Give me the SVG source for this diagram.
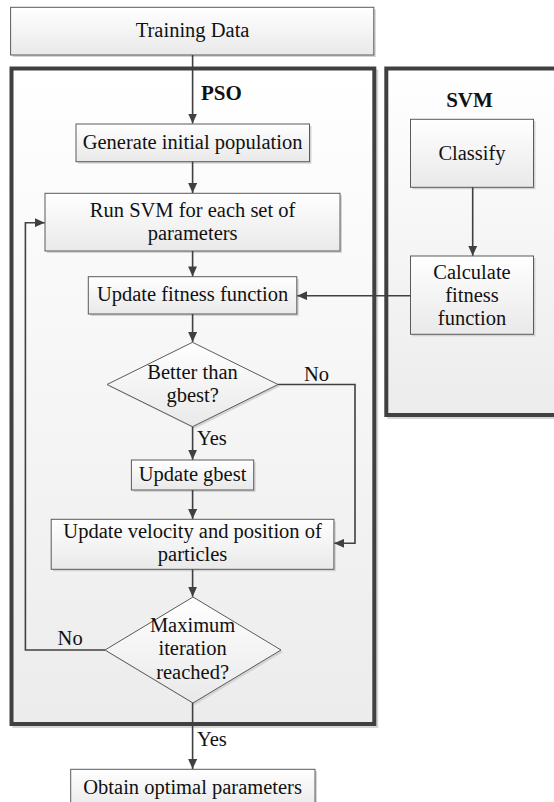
<svg xmlns="http://www.w3.org/2000/svg" width="554" height="802" viewBox="0 0 554 802">
<defs>
<linearGradient id="gBox" x1="0" y1="0" x2="0" y2="1"><stop offset="0" stop-color="#ffffff"/><stop offset="1" stop-color="#e9e9e9"/></linearGradient>
<linearGradient id="gCont" x1="0" y1="0" x2="0" y2="1"><stop offset="0" stop-color="#ffffff"/><stop offset="1" stop-color="#ececec"/></linearGradient>
<marker id="ah" markerUnits="userSpaceOnUse" markerWidth="11" markerHeight="9" refX="10" refY="4.5" orient="auto"><path d="M0,0 L10,4.5 L0,9 z" fill="#404040"/></marker>
</defs>
<style>
.box{fill:url(#gBox);stroke:#5a5a5a;stroke-width:1}
.shadow{fill:#d4d4d4;stroke:none}
.cont{fill:url(#gCont);stroke:#404040;stroke-width:4}
.cshadow{fill:none;stroke:#d6d6d6;stroke-width:3}
.dia{fill:url(#gBox);stroke:#5a5a5a;stroke-width:1}
.t{font-family:"Liberation Serif","Times New Roman",serif;font-size:20.5px;fill:#111;text-anchor:middle}
.ts{font-family:"Liberation Serif","Times New Roman",serif;font-size:20.5px;fill:#111}
.b{font-family:"Liberation Serif","Times New Roman",serif;font-size:21px;font-weight:bold;fill:#111}
.c{fill:none;stroke:#404040;stroke-width:1.6}
.ca{fill:none;stroke:#404040;stroke-width:1.6;marker-end:url(#ah)}
</style>

<g id="pso-container">
<rect class="cshadow" x="14" y="71" width="362.8" height="655.5"/>
<rect class="cont" x="11.5" y="68.5" width="362.8" height="655.5"/>
<text class="b" x="201" y="100">PSO</text>
</g>
<g id="svm-container">
<rect class="cshadow" x="388.8" y="71" width="200" height="346.5"/>
<rect class="cont" x="386.3" y="68.5" width="200" height="346.5"/>
<text class="b" x="469.5" y="107" text-anchor="middle">SVM</text>
</g>

<g id="training-data">
<rect class="shadow" x="12.6" y="9.3" width="363.2" height="47.7"/>
<rect class="box" x="10.6" y="7.3" width="363.2" height="47.7"/>
<text class="t" x="192.6" y="37">Training Data</text>
</g>
<g id="generate">
<rect class="shadow" x="78" y="126" width="233.5" height="37.7"/>
<rect class="box" x="76" y="124" width="233.5" height="37.7"/>
<text class="t" x="192.6" y="148.5">Generate initial population</text>
</g>
<g id="classify">
<rect class="shadow" x="412.5" y="121.3" width="123" height="68"/>
<rect class="box" x="410.5" y="119.3" width="123" height="68"/>
<text class="t" x="472" y="160">Classify</text>
</g>
<g id="run-svm">
<rect class="shadow" x="47" y="195.3" width="295" height="57.7"/>
<rect class="box" x="45" y="193.3" width="295" height="57.7"/>
<text class="t" x="192.6" y="217">Run SVM for each set of</text>
<text class="t" x="192.6" y="240">parameters</text>
</g>
<g id="update-fitness">
<rect class="shadow" x="90.3" y="278.7" width="208.5" height="37.3"/>
<rect class="box" x="88.3" y="276.7" width="208.5" height="37.3"/>
<text class="t" x="192.6" y="301">Update fitness function</text>
</g>
<g id="calculate-fitness">
<rect class="shadow" x="412.5" y="258" width="123" height="78.3"/>
<rect class="box" x="410.5" y="256" width="123" height="78.3"/>
<text class="t" x="472" y="278.5">Calculate</text>
<text class="t" x="472" y="302">fitness</text>
<text class="t" x="472" y="324.5">function</text>
</g>
<g id="better-than-gbest">
<polygon class="shadow" points="194.5,344.3 280,386.5 194.5,428.7 109,386.5"/>
<polygon class="dia" points="192.5,342.3 278,384.5 192.5,426.7 107,384.5"/>
<text class="t" x="192.6" y="379">Better than</text>
<text class="t" x="192.6" y="401.5">gbest?</text>
</g>
<g id="update-gbest">
<rect class="shadow" x="133.4" y="462" width="122.3" height="30"/>
<rect class="box" x="131.4" y="460" width="122.3" height="30"/>
<text class="t" x="192.6" y="481">Update gbest</text>
</g>
<g id="update-velocity">
<rect class="shadow" x="53.2" y="521.3" width="282.7" height="50"/>
<rect class="box" x="51.2" y="519.3" width="282.7" height="50"/>
<text class="t" x="192.6" y="537.5">Update velocity and position of</text>
<text class="t" x="192.6" y="561">particles</text>
</g>
<g id="max-iteration">
<polygon class="shadow" points="195,599 283,652 195,705 107,652"/>
<polygon class="dia" points="193,597 281,650 193,703 105,650"/>
<text class="t" x="192.6" y="632">Maximum</text>
<text class="t" x="192.6" y="655">iteration</text>
<text class="t" x="192.6" y="678.5">reached?</text>
</g>
<g id="obtain-optimal">
<rect class="shadow" x="72.7" y="771.3" width="244.3" height="40"/>
<rect class="box" x="70.7" y="769.3" width="244.3" height="40"/>
<text class="t" x="192.6" y="793.5">Obtain optimal parameters</text>
</g>

<g id="connectors">
<line class="ca" x1="192.6" y1="55" x2="192.6" y2="123.5"/>
<line class="ca" x1="192.6" y1="161.7" x2="192.6" y2="193"/>
<line class="ca" x1="472.7" y1="187.3" x2="472.7" y2="255.7"/>
<line class="ca" x1="192.6" y1="251" x2="192.6" y2="276.4"/>
<line class="ca" x1="410.5" y1="295.7" x2="297.2" y2="295.7"/>
<line class="ca" x1="192.6" y1="314" x2="192.6" y2="342"/>
<polyline class="ca" points="278,384.5 355,384.5 355,543.3 334.2,543.3"/>
<line class="ca" x1="192.6" y1="426.7" x2="192.6" y2="459.7"/>
<line class="ca" x1="192.6" y1="490" x2="192.6" y2="519"/>
<line class="ca" x1="192.6" y1="569.3" x2="192.6" y2="596.7"/>
<polyline class="ca" points="105,650 25.4,650 25.4,222.7 44.7,222.7"/>
<line class="ca" x1="192.6" y1="703" x2="192.6" y2="769"/>
<text class="ts" x="304" y="381">No</text>
<text class="ts" x="197" y="445">Yes</text>
<text class="ts" x="57.6" y="645">No</text>
<text class="ts" x="197" y="746">Yes</text>
</g>
</svg>
